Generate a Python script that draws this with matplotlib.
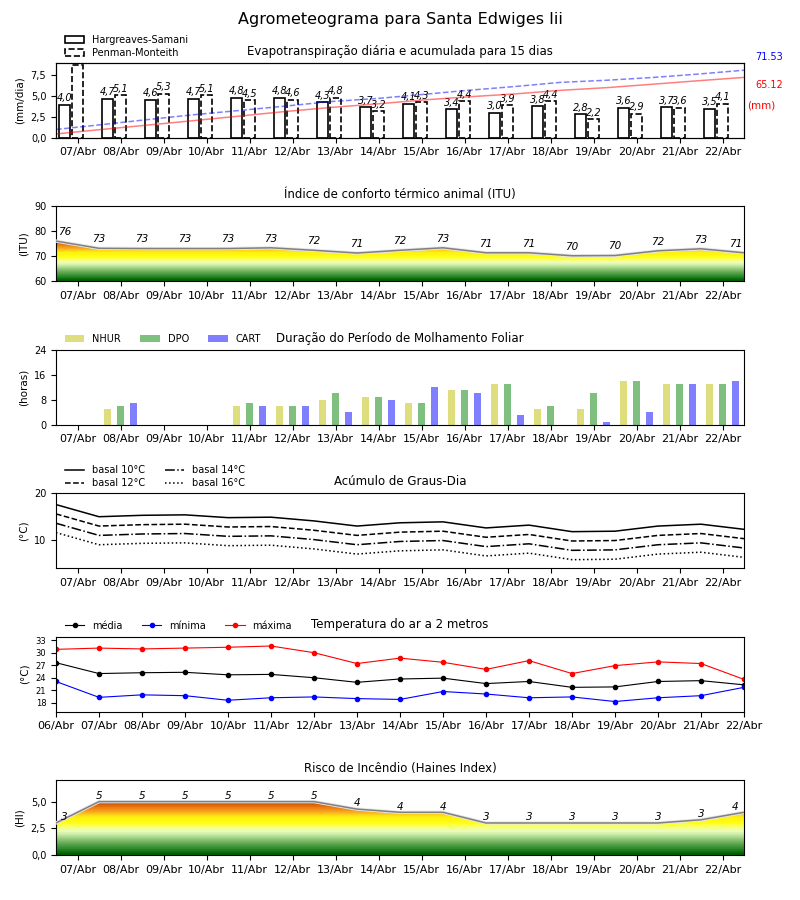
import matplotlib
matplotlib.use("Agg")
import matplotlib.pyplot as plt
import matplotlib.patheffects as pe
from matplotlib.colors import LinearSegmentedColormap
from matplotlib.patches import Polygon, Patch
from matplotlib.ticker import FuncFormatter
import numpy as np

# ---- data ----
dias = ["06/Abr", "07/Abr", "08/Abr", "09/Abr", "10/Abr", "11/Abr", "12/Abr", "13/Abr", "14/Abr",
        "15/Abr", "16/Abr", "17/Abr", "18/Abr", "19/Abr", "20/Abr", "21/Abr", "22/Abr"]
dias_prev = dias[1:]

et_hs = [4.0, 4.7, 4.6, 4.7, 4.8, 4.8, 4.3, 3.7, 4.1, 3.4, 3.0, 3.8, 2.8, 3.6, 3.7, 3.5]
et_pm = [8.7, 5.1, 5.3, 5.1, 4.5, 4.6, 4.8, 3.2, 4.3, 4.4, 3.9, 4.4, 2.2, 2.9, 3.6, 4.1]
total_hs = 65.12
total_pm = 71.53

itu = [76.1, 73.2, 73.1, 73.1, 73.1, 73.4, 72.4, 71.3, 72.4, 73.4, 71.4, 71.4, 70.2, 70.3, 72.2, 73.0, 71.4]

nhur = [0, 5, 0, 0, 6, 6, 8, 9, 7, 11, 13, 5, 5, 14, 13, 13]
dpo = [0, 6, 0, 0, 7, 6, 10, 9, 7, 11, 13, 6, 10, 14, 13, 13]
cart = [0, 7, 0, 0, 6, 6, 4, 8, 12, 10, 3, 0, 1, 4, 13, 14]

gd10 = [17.6, 15.0, 15.3, 15.4, 14.8, 14.9, 14.1, 13.0, 13.7, 13.9, 12.6, 13.2, 11.8, 11.9, 13.0, 13.4, 12.3]
gd12 = [15.6, 13.0, 13.3, 13.4, 12.8, 12.9, 12.1, 11.0, 11.7, 11.9, 10.6, 11.2, 9.8, 9.9, 11.0, 11.4, 10.3]
gd14 = [13.6, 11.0, 11.3, 11.4, 10.8, 10.9, 10.1, 9.0, 9.7, 9.9, 8.6, 9.2, 7.8, 7.9, 9.0, 9.4, 8.3]
gd16 = [11.6, 9.0, 9.3, 9.4, 8.8, 8.9, 8.1, 7.0, 7.7, 7.9, 6.6, 7.2, 5.8, 5.9, 7.0, 7.4, 6.3]

t_media = [27.6, 25.0, 25.2, 25.3, 24.7, 24.8, 24.0, 22.9, 23.7, 23.9, 22.6, 23.1, 21.7, 21.8, 23.1, 23.3, 22.3]
t_min = [23.1, 19.3, 19.9, 19.7, 18.6, 19.2, 19.4, 19.0, 18.8, 20.7, 20.1, 19.2, 19.4, 18.3, 19.2, 19.7, 21.7]
t_max = [30.8, 31.1, 30.9, 31.1, 31.3, 31.6, 30.0, 27.4, 28.7, 27.7, 26.0, 28.1, 25.0, 26.9, 27.8, 27.4, 23.6]

haines = [3.0, 5.0, 5.0, 5.0, 5.0, 5.0, 5.0, 4.3, 4.0, 4.0, 3.0, 3.0, 3.0, 3.0, 3.0, 3.3, 4.0]

# colour ramp used under the ITU and Haines curves
ramp = LinearSegmentedColormap.from_list(
    "risco",
    [(0.00, "#006000"), (0.10, "#2a8a2a"), (0.20, "#60a850"), (0.30, "#98cc80"),
     (0.38, "#cdeeaa"), (0.45, "#eeffb8"), (0.53, "#fbff60"), (0.60, "#ffff10"),
     (0.72, "#ffee10"), (0.80, "#f8b020"), (0.90, "#ee7a10"), (1.00, "#c84800")],
    N=28,
)


def virgula(v, pos=None):
    return ("%.1f" % v).replace(".", ",")


def gradiente(ax, x, y, ymin, dy_label):
    verts = [(x[0], ymin)] + list(zip(x, y)) + [(x[-1], ymin)]
    poly = Polygon(verts, closed=True, facecolor="none", edgecolor="none")
    ax.add_patch(poly)
    img = ax.imshow(np.linspace(0, 1, 256).reshape(-1, 1), cmap=ramp, aspect="auto",
                    origin="lower", extent=[x[0], x[-1], ymin, max(y)], zorder=1)
    img.set_clip_path(poly)
    ax.plot(x, y, color="#808080", lw=1.1, zorder=3,
            path_effects=[pe.Stroke(linewidth=2.4, foreground="#e8e8e8"), pe.Normal()])
    for i, (xi, yi) in enumerate(zip(x, y)):
        xl = xi + 0.2 if i == 0 else (xi - 0.2 if i == len(x) - 1 else xi)
        ax.annotate("%.0f" % yi, (xl, yi), xytext=(0, dy_label), textcoords="offset points",
                    ha="center", va="bottom", fontsize=7.5, style="italic", zorder=4)


fig, axes = plt.subplots(6, 1, figsize=(8, 9), dpi=100)
fig.subplots_adjust(left=0.07, right=0.93, bottom=0.05, top=0.93, hspace=0.92)
fig.suptitle("Agrometeograma para Santa Edwiges Iii", fontsize=11.5, y=0.987)

xd = np.arange(len(dias_prev))          # 16 forecast days
xh = np.arange(len(dias)) - 0.5         # 17 points between ticks

# ---- 1: evapotranspiration ----
ax = axes[0]
w = 0.24
ax.bar(xd - 0.3, et_hs, w, facecolor="white", edgecolor="black", lw=1.2, zorder=2)
ax.bar(xd, et_pm, w, facecolor="white", edgecolor="black", lw=1.2, ls="--", zorder=2)
for xi, v in zip(xd - 0.3, et_hs):
    ax.annotate(virgula(v), (xi, v), xytext=(0, 1), textcoords="offset points",
                ha="center", va="bottom", fontsize=7, style="italic")
for xi, v in zip(xd, et_pm):
    if v < 8:
        ax.annotate(virgula(v), (xi, v), xytext=(0, 1), textcoords="offset points",
                    ha="center", va="bottom", fontsize=7, style="italic")
ax.set_ylim(0, 9)
ax.set_yticks([0, 2.5, 5, 7.5])
ax.yaxis.set_major_formatter(FuncFormatter(virgula))
ax.set_ylabel("(mm/dia)", fontsize=7.5)
ax.set_title("Evapotranspiração diária e acumulada para 15 dias", fontsize=8.5)
leg = [Patch(facecolor="white", edgecolor="black", lw=1.2, label="Hargreaves-Samani"),
       Patch(facecolor="white", edgecolor="black", lw=1.2, ls="--", label="Penman-Monteith")]
ax.legend(handles=leg, loc="lower left", bbox_to_anchor=(0.003, 0.98), frameon=False,
          fontsize=7, borderaxespad=0.3, labelspacing=0.3)
axb = ax.twinx()
xa = np.linspace(-0.5, 15.5, len(et_hs))
axb.plot(xa, np.cumsum(et_hs), color="red", alpha=0.5, lw=1.1)
axb.plot(xa, np.cumsum(et_pm), color="blue", alpha=0.5, lw=1.1, ls="--")
axb.set_ylim(0, max(total_hs, total_pm) * 1.1)
axb.set_yticks([])
ax.text(1.016, 1.075, "%.2f" % total_pm, color="blue", fontsize=7, va="center", transform=ax.transAxes)
ax.text(1.016, 0.71, "%.2f" % total_hs, color="red", fontsize=7, va="center", transform=ax.transAxes)
ax.text(1.004, 0.437, "(mm)", color="red", fontsize=7.5, va="center", transform=ax.transAxes)

# ---- 2: ITU ----
ax = axes[1]
gradiente(ax, xh, itu, 60, 3)
ax.set_ylim(60, 90)
ax.set_yticks([60, 70, 80, 90])
ax.set_ylabel("(ITU)", fontsize=7.5)
ax.set_title("Índice de conforto térmico animal (ITU)", fontsize=8.5)

# ---- 3: leaf wetness ----
ax = axes[2]
wb = 0.16
ax.bar(xd - 0.3, nhur, wb, color="y", alpha=0.5, label="NHUR")
ax.bar(xd, dpo, wb, color="g", alpha=0.5, label="DPO")
ax.bar(xd + 0.3, cart, wb, color="b", alpha=0.5, label="CART")
ax.set_ylim(0, 24)
ax.set_yticks([0, 8, 16, 24])
ax.set_ylabel("(horas)", fontsize=7.5)
ax.set_title("Duração do Período de Molhamento Foliar", fontsize=8.5)
ax.legend(loc="lower left", bbox_to_anchor=(0.003, 0.99), ncol=3, frameon=False, fontsize=7,
          borderaxespad=0.3, columnspacing=2.0)

# ---- 4: degree days ----
ax = axes[3]
ax.plot(xh, gd10, color="black", lw=1.1, ls="-", label="basal 10°C")
ax.plot(xh, gd12, color="black", lw=1.1, ls="--", label="basal 12°C")
ax.plot(xh, gd14, color="black", lw=1.1, ls="-.", label="basal 14°C")
ax.plot(xh, gd16, color="black", lw=1.1, ls=":", label="basal 16°C")
ax.set_ylim(4, 20)
ax.set_yticks([10, 20])
ax.set_ylabel("(°C)", fontsize=7.5)
ax.set_title("Acúmulo de Graus-Dia", fontsize=8.5)
ax.legend(loc="lower left", bbox_to_anchor=(0.003, 0.98), ncol=2, frameon=False, fontsize=7,
          borderaxespad=0.3, labelspacing=0.3)

# ---- 5: air temperature ----
ax = axes[4]
xt = np.arange(len(dias))
ax.plot(xt, t_media, color="black", marker="o", ms=3, lw=0.8, label="média")
ax.plot(xt, t_min, color="blue", marker="o", ms=3, lw=0.8, label="mínima")
ax.plot(xt, t_max, color="red", marker="o", ms=3, lw=0.8, label="máxima")
ax.set_xlim(0, len(dias) - 1)
ax.set_xticks(xt)
ax.set_xticklabels(dias)
ax.set_ylim(15.9, 33.8)
ax.set_yticks([18, 21, 24, 27, 30, 33])
ax.tick_params(axis="y", labelsize=6)
ax.set_ylabel("(°C)", fontsize=7.5)
ax.set_title("Temperatura do ar a 2 metros", fontsize=8.5)
ax.legend(loc="lower left", bbox_to_anchor=(0.003, 0.99), ncol=3, frameon=False, fontsize=7,
          borderaxespad=0.3, columnspacing=2.0)

# ---- 6: Haines ----
ax = axes[5]
gradiente(ax, xh, haines, 0, 0.5)
ax.set_ylim(0, 7)
ax.set_yticks([0, 2.5, 5])
ax.yaxis.set_major_formatter(FuncFormatter(virgula))
ax.set_ylabel("(HI)", fontsize=7.5)
ax.set_title("Risco de Incêndio (Haines Index)", fontsize=8.5)

for i, ax in enumerate(axes):
    if i != 4:
        ax.set_xlim(-0.5, len(dias_prev) - 0.5)
        ax.set_xticks(xd)
        ax.set_xticklabels(dias_prev)
    ax.tick_params(axis="x", labelsize=8)
    if i != 4:
        ax.tick_params(axis="y", labelsize=7)

fig.savefig("out.png", dpi=100)
